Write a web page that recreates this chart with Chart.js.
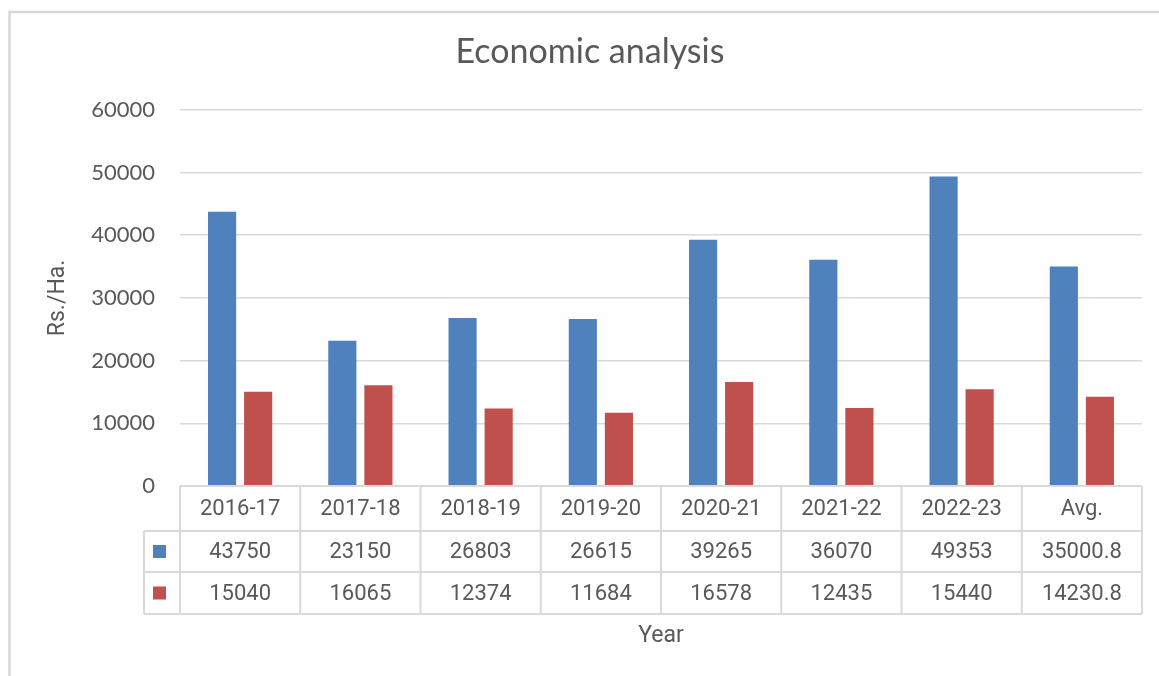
<!DOCTYPE html>
<html>
<head>
<meta charset="utf-8">
<script src="https://cdn.jsdelivr.net/npm/chart.js@4"></script>
<style>
  html, body { margin: 0; padding: 0; background: #fff; }
  #wrap { width: 1159px; height: 676px; }
</style>
</head>
<body>
<div id="wrap"><canvas id="econChart" width="1159" height="676"></canvas></div>
<script>
// chart data
const years = ['2016-17', '2017-18', '2018-19', '2019-20', '2020-21', '2021-22', '2022-23', 'Avg.'];
const blueValues = [43750, 23150, 26803, 26615, 39265, 36070, 49353, 35000.8];
const redValues = [15040, 16065, 12374, 11684, 16578, 12435, 15440, 14230.8];
const yTicks = [0, 10000, 20000, 30000, 40000, 50000, 60000];

const BLUE = '#4F81BD';
const RED = '#C0504D';
const LINE = '#d9d9d9';
const TEXT = '#595959';

// outer frame like the excel chart border
const framePlugin = {
    id: 'frame',
    beforeDraw(chart) {
        const ctx = chart.ctx;
        ctx.save();
        ctx.fillStyle = '#fff';
        ctx.fillRect(0, 0, chart.width, chart.height);
        ctx.strokeStyle = LINE;
        ctx.lineWidth = 2.5;
        ctx.strokeRect(9.5, 12, chart.width + 20, chart.height + 20);
        ctx.restore();
    }
};

// data table under the plot, aligned with the category scale
const dataTablePlugin = {
    id: 'dataTable',
    afterDraw(chart) {
        const ctx = chart.ctx;
        const area = chart.chartArea;
        const xs = chart.scales.x;
        const n = years.length;
        const colW = (area.right - area.left) / n;
        const keyLeft = area.left - 36;

        const y0 = area.bottom;
        const y1 = y0 + 45;
        const y2 = y1 + 41;
        const y3 = y2 + 42;

        ctx.save();
        ctx.strokeStyle = LINE;
        ctx.lineWidth = 2;

        ctx.beginPath();
        ctx.moveTo(area.left, y0); ctx.lineTo(area.right, y0);
        [y1, y2, y3].forEach(y => { ctx.moveTo(keyLeft, y); ctx.lineTo(area.right, y); });
        ctx.moveTo(keyLeft, y1); ctx.lineTo(keyLeft, y3);
        for (let k = 0; k <= n; k++) {
            const x = area.left + k * colW;
            ctx.moveTo(x, y0); ctx.lineTo(x, y3);
        }
        ctx.stroke();

        ctx.fillStyle = TEXT;
        ctx.font = '22px Roboto';
        ctx.textAlign = 'center';
        ctx.textBaseline = 'middle';
        years.forEach((lab, i) => {
            const cx = xs.getPixelForValue(i);
            ctx.fillText(lab, cx, (y0 + y1) / 2 + 1);
            ctx.fillText(String(blueValues[i]), cx, (y1 + y2) / 2 + 1);
            ctx.fillText(String(redValues[i]), cx, (y2 + y3) / 2 + 1);
        });

        // legend keys
        const kx = keyLeft + 9;
        ctx.fillStyle = BLUE;
        ctx.fillRect(kx, (y1 + y2) / 2 - 6.5, 13, 13);
        ctx.fillStyle = RED;
        ctx.fillRect(kx, (y2 + y3) / 2 - 6.5, 13, 13);
        ctx.restore();
    }
};

const ctx = document.getElementById('econChart').getContext('2d');

new Chart(ctx, {
    type: 'bar',
    data: {
        labels: years,
        datasets: [
            {
                label: 'Series 1',
                data: blueValues,
                backgroundColor: BLUE,
                categoryPercentage: 0.6,
                barPercentage: 0.78
            },
            {
                label: 'Series 2',
                data: redValues,
                backgroundColor: RED,
                categoryPercentage: 0.6,
                barPercentage: 0.78
            }
        ]
    },
    options: {
        responsive: false,
        animation: false,
        layout: {
            padding: { top: 12, left: 38, right: 17, bottom: 0 }
        },
        plugins: {
            legend: { display: false },
            tooltip: { enabled: false },
            title: {
                display: true,
                text: 'Economic analysis',
                color: TEXT,
                font: { family: 'Lato', size: 34, weight: 'normal' },
                padding: { top: 20, bottom: 37 }
            }
        },
        scales: {
            x: {
                grid: { display: false },
                border: { display: false },
                ticks: { display: false },
                title: {
                    display: true,
                    text: 'Year',
                    color: TEXT,
                    font: { family: 'Roboto', size: 23 },
                    padding: { top: 0, bottom: 26 }
                },
                afterFit: function(scale) { scale.height = 190; }
            },
            y: {
                min: 0,
                max: 60000,
                grid: { color: LINE, lineWidth: 1.5, drawTicks: false },
                border: { display: false },
                afterBuildTicks: function(scale) {
                    scale.ticks = yTicks.map(v => ({ value: v }));
                },
                ticks: {
                    color: TEXT,
                    padding: 25,
                    font: { family: 'Lato', size: 22 },
                    callback: function(value) { return value; }
                },
                title: {
                    display: true,
                    text: 'Rs./Ha.',
                    color: TEXT,
                    font: { family: 'Roboto', size: 23 },
                    padding: { top: 6, bottom: 0 }
                },
                afterFit: function(scale) { scale.width = 142; }
            }
        }
    },
    plugins: [framePlugin, dataTablePlugin]
});
</script>
</body>
</html>
